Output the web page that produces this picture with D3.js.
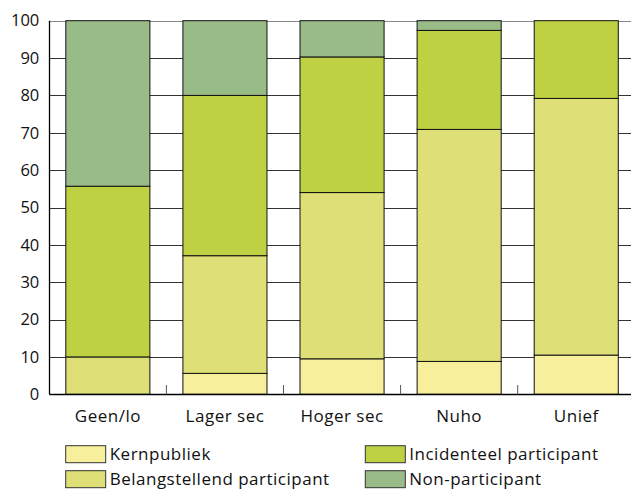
<!DOCTYPE html>
<html><head><meta charset="utf-8">
<script src="https://cdn.jsdelivr.net/npm/d3@7"></script>
<style>body{margin:0;background:#fff}svg{display:block}text{font-family:"Open Sans",sans-serif;fill:#111}</style>
</head><body><div id="chart"></div>
<script>
const categories = ["Geen/lo","Lager sec","Hoger sec","Nuho","Unief"];
const seriesNames = ["Kernpubliek","Belangstellend participant","Incidenteel participant","Non-participant"];
const kernpubliek = [0, 5.6, 9.5, 8.8, 10.5];
const belangstellend = [10, 31.5, 44.5, 62.1, 68.7];
const incidenteel = [45.7, 42.9, 36.3, 26.5, 20.8];
const nonParticipant = [44.3, 20, 9.7, 2.6, 0];
const yTicks = [0,10,20,30,40,50,60,70,80,90,100];
const colors = ["#f7ef9b","#dee077","#bed143","#99bb88"];

const W=631,H=489;
const svg=d3.select("#chart").append("svg").attr("width",W).attr("height",H);
const x=d3.scaleBand().domain(categories).range([49.3,634.8]).paddingInner(0.282).paddingOuter(0.141);
const y=d3.scaleLinear().domain([0,100]).range([394.3,20.7]);

const rows=categories.map((c,i)=>({cat:c,k:kernpubliek[i],b:belangstellend[i],n:incidenteel[i],p:nonParticipant[i]}));
const stack=d3.stack().keys(["k","b","n","p"])(rows);

// gridlines
svg.append("g").selectAll("line").data(yTicks.filter(t=>t>0)).join("line")
 .attr("x1",49.3).attr("x2",W).attr("y1",d=>Math.round(y(d))+0.5).attr("y2",d=>Math.round(y(d))+0.5)
 .attr("stroke",d=>d===100?"#888":"#333").attr("stroke-width",1);

// bars
svg.append("g").selectAll("g").data(stack).join("g").attr("fill",(d,i)=>colors[i])
 .selectAll("rect").data(d=>d.filter(s=>s[1]-s[0]>0)).join("rect")
 .attr("x",d=>x(d.data.cat)).attr("width",x.bandwidth())
 .attr("y",d=>y(d[1])).attr("height",d=>y(d[0])-y(d[1]))
 .attr("stroke","#111").attr("stroke-width",1);

// x axis
const xAxis=d3.axisBottom(x).tickSize(0).tickPadding(15.3);
const gx=svg.append("g").attr("transform","translate(0,394.3)").call(xAxis);
gx.select(".domain").remove();
gx.selectAll("text").attr("font-size","17px").attr("letter-spacing","0.5px").attr("font-family","Open Sans").attr("fill","#111");
svg.append("line").attr("x1",49.3).attr("x2",W).attr("y1",394.5).attr("y2",394.5).attr("stroke","#000").attr("stroke-width",1.3);
// between-category ticks
svg.append("g").selectAll("line").data(categories.slice(1)).join("line")
 .attr("x1",d=>x(d)-x.step()*x.paddingInner()/2).attr("x2",d=>x(d)-x.step()*x.paddingInner()/2)
 .attr("y1",385).attr("y2",394.3).attr("stroke","#555").attr("stroke-width",1);

// y axis
const yAxis=d3.axisLeft(y).tickValues(yTicks).tickSize(0).tickPadding(10);
const gy=svg.append("g").attr("transform","translate(49.3,0)").call(yAxis);
gy.select(".domain").remove();
gy.selectAll("text").attr("font-size","16.5px").attr("font-family","Open Sans").attr("fill","#111");
svg.append("line").attr("x1",49.5).attr("x2",49.5).attr("y1",20.7).attr("y2",394.3).attr("stroke","#000").attr("stroke-width",1.3);

// legend
const legendPos=[[65.7,445.7],[65.7,470.7],[365.3,445.7],[365.3,470.7]];
const lg=svg.append("g").selectAll("g").data(seriesNames).join("g")
 .attr("transform",(d,i)=>`translate(${legendPos[i][0]},${legendPos[i][1]})`);
lg.append("rect").attr("width",40).attr("height",17).attr("fill",(d,i)=>colors[i]).attr("stroke","#333").attr("stroke-width",1);
lg.append("text").attr("x",44).attr("y",14).attr("font-size","17px").attr("letter-spacing","0.5px").text(d=>d);
</script></body></html>
